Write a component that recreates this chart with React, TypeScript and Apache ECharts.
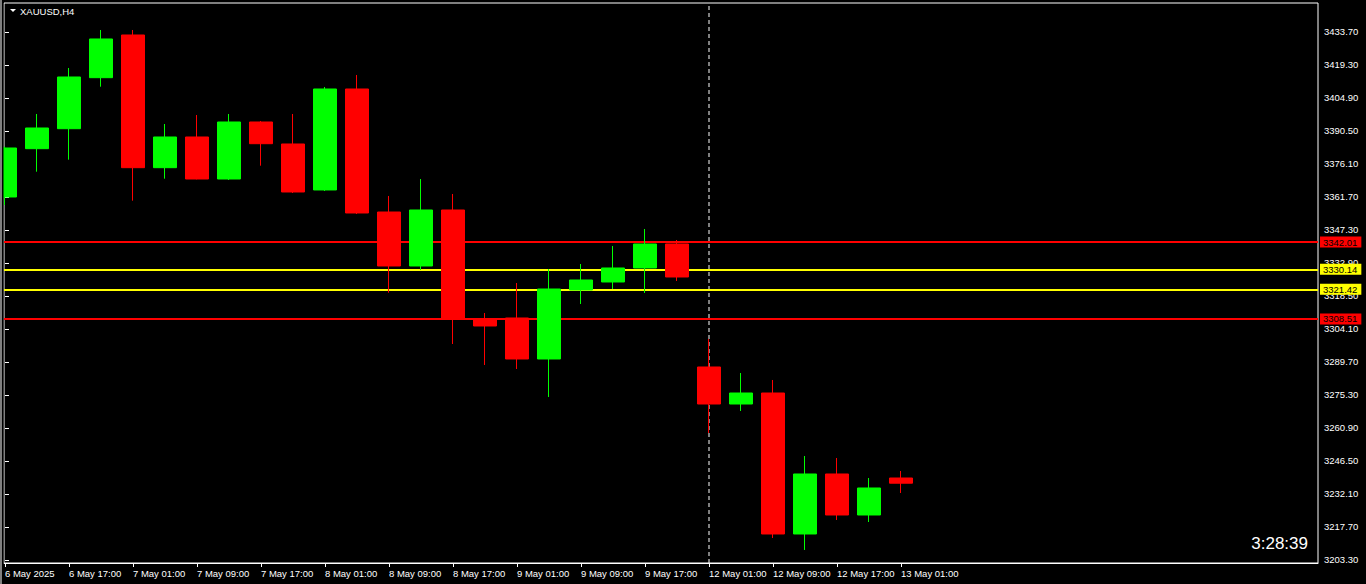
import React, { useEffect, useRef } from "react";
import * as echarts from "echarts";

const symbolTitle = "XAUUSD,H4";
const timerText = "3:28:39";

// H4 bars, 6 May 09:00 .. 13 May 01:00
const barTimes = [
  "6 May 09:00", "6 May 13:00", "6 May 17:00", "6 May 21:00",
  "7 May 01:00", "7 May 05:00", "7 May 09:00", "7 May 13:00", "7 May 17:00", "7 May 21:00",
  "8 May 01:00", "8 May 05:00", "8 May 09:00", "8 May 13:00", "8 May 17:00", "8 May 21:00",
  "9 May 01:00", "9 May 05:00", "9 May 09:00", "9 May 13:00", "9 May 17:00", "9 May 21:00",
  "12 May 01:00", "12 May 05:00", "12 May 09:00", "12 May 13:00", "12 May 17:00", "12 May 21:00",
  "13 May 01:00",
];
const opens = [
  3361.70, 3382.78, 3391.50, 3413.76, 3432.39, 3374.49, 3387.88, 3369.55, 3394.43, 3384.83,
  3364.76, 3408.83, 3355.15, 3331.59, 3356.03, 3308.46, 3308.90, 3291.01, 3321.12, 3324.61,
  3330.72, 3341.19, 3287.52, 3271.37, 3276.17, 3214.65, 3240.83, 3222.94, 3239.08,
];
const closes = [
  3383.08, 3391.81, 3414.06, 3430.65, 3374.49, 3387.88, 3369.55, 3394.43, 3384.96, 3363.88,
  3408.83, 3354.72, 3331.59, 3356.03, 3308.46, 3305.41, 3291.01, 3321.55, 3325.48, 3330.72,
  3341.19, 3326.79, 3271.37, 3276.17, 3214.65, 3240.83, 3222.94, 3234.72, 3236.81,
];
const lows = [
  3358.21, 3372.74, 3377.98, 3409.83, 3360.09, 3369.69, 3369.40, 3369.12, 3375.36, 3363.45,
  3364.32, 3354.28, 3319.94, 3329.85, 3297.55, 3288.39, 3286.64, 3274.43, 3315.01, 3321.55,
  3319.81, 3325.05, 3258.72, 3268.32, 3212.90, 3207.67, 3220.76, 3219.88, 3232.54,
];
const highs = [
  3383.65, 3397.92, 3417.99, 3434.57, 3434.57, 3393.55, 3397.48, 3397.92, 3394.87, 3397.92,
  3409.70, 3414.94, 3362.14, 3369.55, 3363.01, 3311.08, 3324.17, 3330.28, 3332.46, 3340.32,
  3347.74, 3342.94, 3299.74, 3284.90, 3281.85, 3248.68, 3247.81, 3239.08, 3242.14,
];

const xTickIndexes = [0, 2, 4, 6, 8, 10, 12, 14, 16, 18, 20, 22, 24, 26, 28];
const xTickLabels = [
  "6 May 2025", "6 May 17:00", "7 May 01:00", "7 May 09:00", "7 May 17:00",
  "8 May 01:00", "8 May 09:00", "8 May 17:00", "9 May 01:00", "9 May 09:00",
  "9 May 17:00", "12 May 01:00", "12 May 09:00", "12 May 17:00", "13 May 01:00",
];
const yTicks = [
  3203.30, 3217.70, 3232.10, 3246.50, 3260.90, 3275.30, 3289.70, 3304.10, 3318.50,
  3332.90, 3347.30, 3361.70, 3376.10, 3390.50, 3404.90, 3419.30, 3433.70,
];
const redLevels = [3342.01, 3308.51];
const yellowLevels = [3330.14, 3321.42];
const currentPrice = 3236.81;
const separatorIndex = 22;

const yMin = 3201.99;
const yMax = 3446.35;
const xMin = -0.03125;
const xMax = 41.03125;

const FONT = "'Liberation Sans', Arial, sans-serif";

export default function App() {
  const ref = useRef<HTMLDivElement>(null);

  useEffect(() => {
    if (!ref.current) return;
    const chart = echarts.init(ref.current, null, { renderer: "svg" });

    const candleData = barTimes.map((_, i) => [i, opens[i], closes[i], lows[i], highs[i]]);

    const levelLabel = (bg: string) => ({
      show: true,
      position: "end",
      distance: 2,
      formatter: (p: any) => Number(p.value).toFixed(2),
      backgroundColor: bg,
      color: "#000",
      fontSize: 9.5,
      fontFamily: FONT,
      lineHeight: 10,
      padding: [1, 4, 0, 3],
    });

    chart.setOption({
      animation: false,
      backgroundColor: "#000",
      grid: {
        left: 4,
        right: 48,
        top: 3,
        bottom: 21,
        show: true,
        borderColor: "#ffffff",
        borderWidth: 1,
        backgroundColor: "#000",
      },
      xAxis: {
        type: "value",
        min: xMin,
        max: xMax,
        splitLine: { show: false },
        axisLine: { show: true, lineStyle: { color: "#fff", width: 1 } },
        axisTick: {
          show: true,
          length: 4,
          lineStyle: { color: "#fff" },
          customValues: xTickIndexes,
        },
        axisLabel: {
          show: true,
          color: "#fff",
          fontSize: 9.5,
          fontFamily: FONT,
          align: "left",
          margin: 5,
          customValues: xTickIndexes,
          formatter: (v: number) => xTickLabels[xTickIndexes.indexOf(v)] ?? "",
        },
      },
      yAxis: {
        type: "value",
        position: "right",
        min: yMin,
        max: yMax,
        scale: true,
        splitLine: { show: false },
        axisLine: { show: false },
        axisTick: {
          show: true,
          length: 4,
          lineStyle: { color: "#fff" },
          customValues: yTicks,
        },
        axisLabel: {
          show: true,
          color: "#fff",
          fontSize: 9.5,
          fontFamily: FONT,
          margin: 6,
          customValues: yTicks,
          formatter: (v: number) => v.toFixed(2),
        },
      },
      series: [
        {
          type: "line",
          z: 0,
          silent: true,
          symbol: "none",
          data: [
            [separatorIndex, yMin],
            [separatorIndex, yMax],
          ],
          lineStyle: { color: "#ffffff", width: 1, type: [4, 3] },
        },
        {
          type: "candlestick",
          z: 5,
          clip: true,
          barWidth: 24,
          encode: { x: 0, y: [1, 2, 3, 4] },
          data: candleData,
          itemStyle: {
            color: "#00ff00",
            color0: "#ff0000",
            borderColor: "#00ff00",
            borderColor0: "#ff0000",
            borderWidth: 1,
          },
          markLine: {
            silent: true,
            symbol: ["none", "none"],
            animation: false,
            data: [
              ...redLevels.map((v) => ({
                yAxis: v,
                lineStyle: { color: "#ff0000", width: 2, type: "solid" },
                label: levelLabel("#ff0000"),
              })),
              ...yellowLevels.map((v) => ({
                yAxis: v,
                lineStyle: { color: "#ffff00", width: 2, type: "solid" },
                label: levelLabel("#ffff00"),
              })),
              {
                yAxis: currentPrice,
                lineStyle: { color: "#000", width: 0, opacity: 0 },
                label: levelLabel("#ffffff"),
              },
            ],
          },
        },
      ],
      graphic: [
        {
          type: "rect",
          left: 0,
          top: 0,
          z: 100,
          shape: { width: 3.5, height: 564 },
          style: { fill: "#000" },
          silent: true,
        },
        {
          type: "rect",
          left: 0,
          top: 0,
          z: 101,
          shape: { width: 2, height: 584 },
          style: { fill: "#808080" },
          silent: true,
        },
        {
          type: "polygon",
          shape: { points: [[10, 9], [16, 9], [13, 12]] },
          style: { fill: "#ffffff" },
          silent: true,
        },
        {
          type: "text",
          left: 20,
          top: 6,
          style: {
            text: symbolTitle,
            fill: "#ffffff",
            fontSize: 9.5,
            fontFamily: FONT,
          },
          silent: true,
        },
        {
          type: "text",
          right: 58,
          top: 535,
          style: {
            text: timerText,
            fill: "#ffffff",
            fontSize: 17,
            fontFamily: FONT,
          },
          silent: true,
        },
      ],
    });

    return () => chart.dispose();
  }, []);

  return (
    <div
      ref={ref}
      style={{ position: "fixed", left: 0, top: 0, width: 1366, height: 584, background: "#000" }}
    />
  );
}
